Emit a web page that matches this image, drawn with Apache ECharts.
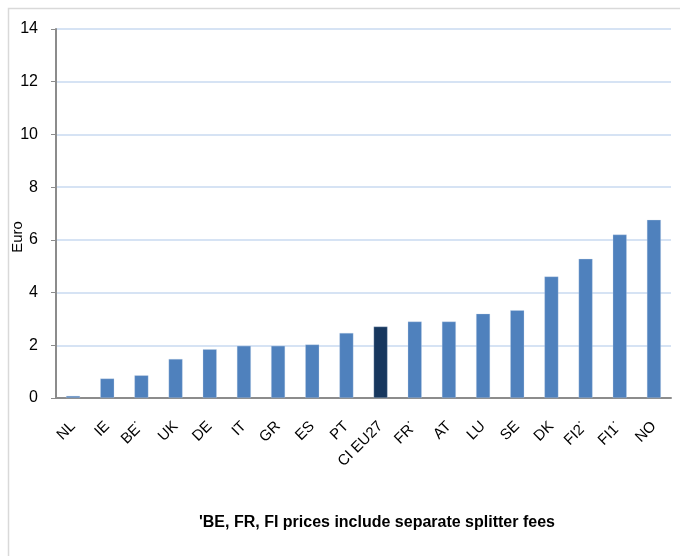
<!DOCTYPE html>
<html>
<head>
<meta charset="utf-8">
<script src="https://cdn.jsdelivr.net/npm/echarts@6/dist/echarts.min.js"></script>
<style>
html,body{margin:0;padding:0;background:#fff;}
#main{width:680px;height:556px;}
</style>
</head>
<body>
<div id="main"></div>
<script>
const categories = ['NL','IE','BE\u02D9','UK','DE','IT','GR','ES','PT','CI EU27','FR\u02D9','AT','LU','SE','DK','FI2\u02D9','FI1\u02D9','NO'];
const values = [0.08, 0.74, 0.86, 1.48, 1.85, 1.98, 1.98, 2.03, 2.47, 2.71, 2.90, 2.90, 3.20, 3.33, 4.61, 5.28, 6.20, 6.76];
const highlightCategory = 'CI EU27';
const yTicks = [0, 2, 4, 6, 8, 10, 12, 14];
const footnote = "'BE, FR, FI prices include separate splitter fees";
const yName = 'Euro';

const chart = echarts.init(document.getElementById('main'), null, {renderer:'canvas'});
const font = 'Arial, "Liberation Sans", sans-serif';
chart.setOption({
  animation: false,
  backgroundColor: '#ffffff',
  grid: {left: 56, right: 9, top: 29, bottom: 158, containLabel: false},
  xAxis: {
    type: 'category',
    data: categories,
    axisLine: {show: true, lineStyle: {color: '#8c8c8c', width: 2}},
    axisTick: {show: false},
    axisLabel: {rotate: 45, margin: 26, color: '#000', fontSize: 15, fontFamily: font, interval: 0}
  },
  yAxis: {
    type: 'value',
    min: yTicks[0],
    max: yTicks[yTicks.length - 1],
    interval: 2,
    axisLine: {show: true, lineStyle: {color: '#8c8c8c', width: 2}},
    axisTick: {show: true, inside: false, length: 5, lineStyle: {color: '#8c8c8c'}},
    axisLabel: {color: '#000', fontSize: 16, fontFamily: font, margin: 18},
    splitLine: {show: true, lineStyle: {color: '#c9daf0', width: 1.5}}
  },
  series: [{
    type: 'bar',
    barWidth: 14,
    data: values.map((v, i) => ({
      value: v,
      itemStyle: {color: categories[i] === highlightCategory ? '#17375e' : '#4f81bd'}
    })),
    itemStyle: {borderColor: 'rgba(200,215,235,0.6)', borderWidth: 0.5}
  }],
  graphic: [
    {type: 'rect', left: 6, top: 6, shape: {width: 690, height: 570}, style: {fill: 'none', stroke: '#d9d9d9', lineWidth: 1.5}, silent: true},
    {type: 'text', x: 18, y: 237, rotation: Math.PI / 2, style: {text: yName, fill: '#000', font: '15px ' + font, align: 'center', verticalAlign: 'middle'}},
    {type: 'text', x: 199, y: 523, style: {text: footnote, fill: '#000', font: 'bold 16px ' + font, align: 'left', verticalAlign: 'middle'}}
  ]
});
</script>
</body>
</html>
